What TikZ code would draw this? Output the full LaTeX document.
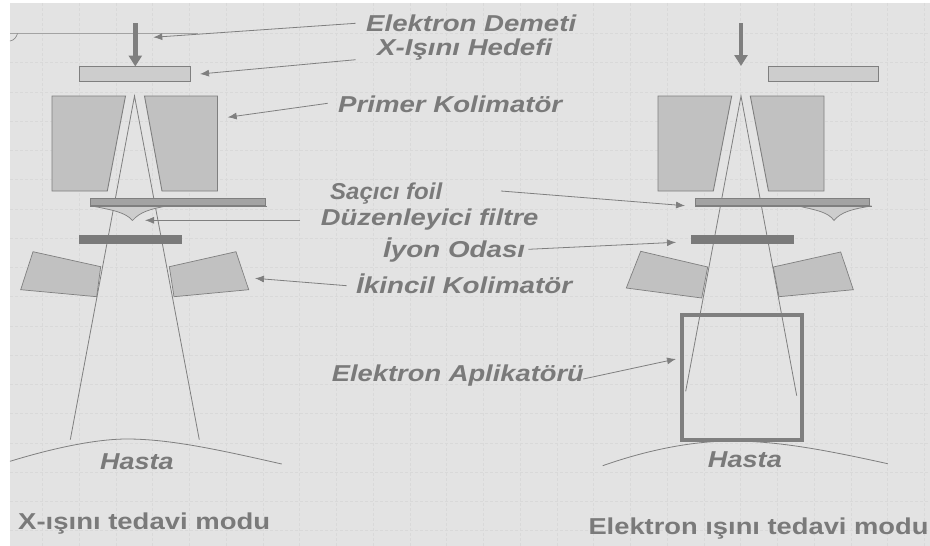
\documentclass[tikz,border=0pt]{standalone}
\usepackage{fontspec}
\usepackage{graphicx}
\setmainfont{Liberation Sans}
\usetikzlibrary{arrows.meta}
\definecolor{bgc}{HTML}{E3E3E3}
\definecolor{gridc}{HTML}{D9D9D9}
\definecolor{txtc}{HTML}{7A7A7A}
\definecolor{edgec}{HTML}{7F7F7F}
\definecolor{colfill}{HTML}{C1C1C1}
\definecolor{tgtfill}{HTML}{CDCDCD}
\definecolor{foilfill}{HTML}{A3A3A3}
\definecolor{ionfill}{HTML}{7A7A7A}
\tikzset{
  lblnode/.style={inner sep=0pt,anchor=base west,text=txtc,font=\fontsize{23}{23}\selectfont\bfseries\itshape},
  modenode/.style={inner sep=0pt,anchor=base west,text=txtc,font=\fontsize{23}{23}\selectfont\bfseries},
  solid part/.style={draw=edgec,line width=0.9pt,fill=colfill},
  boxnode/.style={draw=edgec,line width=0.9pt,inner sep=0pt,outer sep=0pt,anchor=north west},
  ray/.style={draw=edgec,line width=0.8pt},
  pointer/.style={draw=edgec,line width=0.8pt,-{Latex[length=9pt,width=7pt]},shorten >=0pt},
  beam/.style={draw=edgec,line width=4.5pt,-{Triangle[length=11pt,width=13pt]}},
}
\newcommand{\fitw}[2]{\resizebox{#1pt}{\height}{#2}}
\begin{document}
\begin{tikzpicture}[x=1pt,y=-1pt]
\useasboundingbox (0,0) rectangle (930,546);
\fill[white] (0,0) rectangle (930,546);
\fill[bgc] (10,3) rectangle (930,545.7);
% dashed background grid
\foreach \i in {0,...,24} {
  \draw[gridc,line width=0.5pt,densely dashed] ({42.3+36.75*\i},3) -- ({42.3+36.75*\i},545.7);
}
\foreach \j in {0,...,17} {
  \draw[gridc,line width=0.5pt,densely dashed] (10,{33.3+29.25*\j}) -- (930,{33.3+29.25*\j});
}
% top-left stray line
\draw[draw=foilfill,line width=1pt] (10,33) -- (198,33);
\draw[draw=edgec,line width=0.6pt] (10,41) .. controls (14,40.5) and (16.5,37) .. (17.5,33.5);

% coordinates of beams and rays
\coordinate (apexL) at (134.5,96);
\coordinate (rayLa) at (70.3,439.7);
\coordinate (rayLb) at (199.3,439.7);
\coordinate (apexR) at (741,96);
\coordinate (rayRa) at (685.7,391.3);
\coordinate (rayRb) at (796.7,395.7);
\draw[ray] (rayLa) -- (apexL) -- (rayLb);
\draw[ray] (rayRa) -- (apexR) -- (rayRb);

% beams
\coordinate (beamLs) at (135.3,23);
\coordinate (beamLe) at (135.3,66.5);
\coordinate (beamRs) at (741,23);
\coordinate (beamRe) at (741,66);
\draw[beam] (beamLs) -- (beamLe);
\draw[beam] (beamRs) -- (beamRe);

% X-ray targets
\node[boxnode,fill=tgtfill,minimum width=110.5pt,minimum height=15pt] (targetL) at (79.5,66.5) {};
\node[boxnode,fill=tgtfill,minimum width=110.5pt,minimum height=15pt] (targetR) at (768.2,66.5) {};

% primary collimators
\draw[solid part] (52,96) -- (125.5,96) -- (107.3,191) -- (52,191) -- cycle;
\draw[solid part] (144.5,96) -- (217.5,96) -- (217.5,191) -- (162,191) -- cycle;
\draw[solid part] (658,96) -- (731.7,96) -- (713.3,191) -- (658,191) -- cycle;
\draw[solid part] (750.3,96) -- (824,96) -- (824,191) -- (768.5,191) -- cycle;

% filters
\draw[solid part,fill=tgtfill,line width=0.7pt] (92,206) .. controls (112,210) and (125,212) .. (132.5,220.5) .. controls (140,212) and (150,209) .. (167,206) -- cycle;
\draw[solid part,fill=tgtfill,line width=0.7pt] (798,206) .. controls (816,210) and (828,212) .. (834,220.5) .. controls (841,212) and (852,209) .. (871.7,206) -- cycle;
\draw[ray] (90,206) -- (267,206);
\draw[ray] (695,206) -- (871.7,206);

% scattering foils
\node[boxnode,fill=foilfill,minimum width=174.5pt,minimum height=7pt] (foilL) at (90.5,198.5) {};
\node[boxnode,fill=foilfill,minimum width=174.7pt,minimum height=7pt] (foilR) at (695,198.5) {};

% ion chambers
\node[boxnode,draw=ionfill,fill=ionfill,minimum width=102pt,minimum height=8pt] (ionL) at (79,235) {};
\node[boxnode,draw=ionfill,fill=ionfill,minimum width=102pt,minimum height=8pt] (ionR) at (691,235) {};

% secondary collimators
\draw[solid part,line width=0.7pt] (33,251.7) -- (100.7,266.7) -- (96.7,296.7) -- (20.7,289.7) -- cycle;
\draw[solid part,line width=0.7pt] (169.3,266.7) -- (236,251.7) -- (248.7,289.7) -- (174,296.7) -- cycle;
\draw[solid part,line width=0.7pt] (640.7,251.3) -- (707.7,267) -- (701.7,298) -- (626.3,288) -- cycle;
\draw[solid part,line width=0.7pt] (773.3,267) -- (840.7,252) -- (853.3,289.7) -- (779,296.7) -- cycle;

% applicator
\node[draw=edgec,line width=4pt,inner sep=0pt,outer sep=0pt,anchor=north west,minimum width=119.7pt,minimum height=124.7pt] (applic) at (682,315) {};

% patient contours
\draw[ray] (10,461.3) .. controls (60,446) and (100,439) .. (127,439) .. controls (170,439) and (220,450) .. (281.7,464);
\draw[ray] (602.7,465.7) .. controls (650,449) and (695,441) .. (731.7,441) .. controls (780,441) and (830,451) .. (887.7,463.7);

% labels
\node[lblnode] (lDemet) at (366,31) {\fitw{210}{Elektron Demeti}};
\node[lblnode] (lHedef) at (377,56) {\fitw{175}{X-Işını Hedefi}};
\node[lblnode] (lPrimer) at (338,112) {\fitw{224}{Primer Kolimatör}};
\node[lblnode] (lFoil) at (330,199) {\fitw{112}{Saçıcı foil}};
\node[lblnode] (lFiltre) at (320.7,225) {\fitw{217.5}{Düzenleyici filtre}};
\node[lblnode] (lIyon) at (383,257) {\fitw{142}{İyon Odası}};
\node[lblnode] (lIkincil) at (356,293) {\fitw{216}{İkincil Kolimatör}};
\node[lblnode] (lApl) at (331.7,381) {\fitw{252}{Elektron Aplikatörü}};
\node[lblnode] (lHastaL) at (100,469) {\fitw{73.5}{Hasta}};
\node[lblnode] (lHastaR) at (707.7,467.5) {\fitw{74}{Hasta}};
\node[modenode] (lModeL) at (18,529) {\fitw{252}{X-ışını tedavi modu}};
\node[modenode] (lModeR) at (588.3,534.7) {\fitw{340}{Elektron ışını tedavi modu}};

% pointers
\coordinate (p1s) at (355.7,23.3); \coordinate (p1e) at (153.3,37.3);
\coordinate (p2s) at (355.7,59.7); \coordinate (p2e) at (200,74);
\coordinate (p3s) at (327.7,103.3); \coordinate (p3e) at (227.7,117.3);
\coordinate (p4s) at (300,220.3); \coordinate (p4e) at (145,220.3);
\coordinate (p5s) at (501,191); \coordinate (p5e) at (685,205.7);
\coordinate (p6s) at (528.3,249.3); \coordinate (p6e) at (676,242.3);
\coordinate (p7s) at (346.7,285.7); \coordinate (p7e) at (255,278.3);
\coordinate (p8s) at (583.3,379); \coordinate (p8e) at (676,359);
\foreach \n in {1,...,8} { \draw[pointer] (p\n s) -- (p\n e); }
\end{tikzpicture}
\end{document}
